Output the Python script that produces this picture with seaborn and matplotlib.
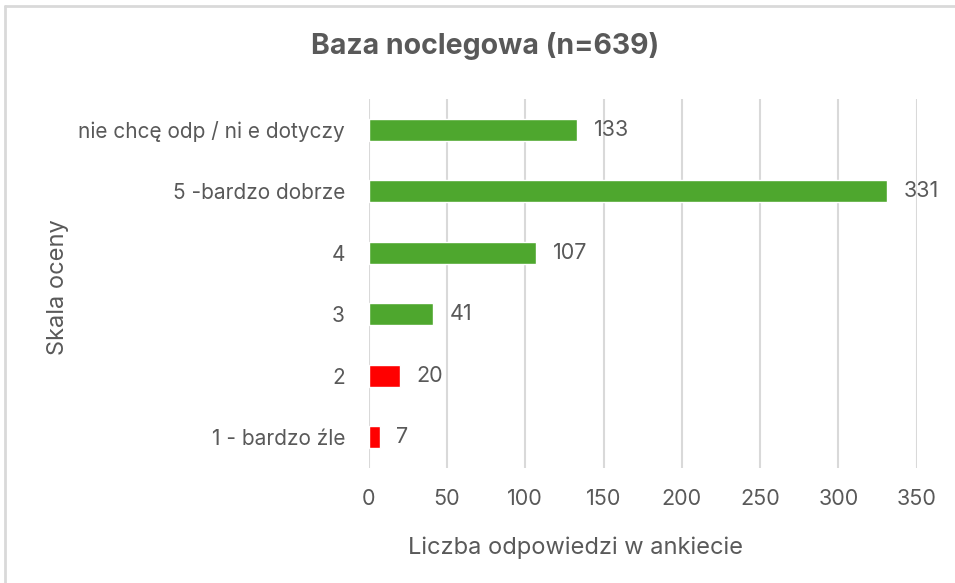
import matplotlib
matplotlib.use("Agg")
import matplotlib.pyplot as plt
import seaborn as sns
import pandas as pd
from matplotlib.lines import Line2D

# dane z ankiety
categories = ["nie chcę odp / ni e dotyczy", "5 -bardzo dobrze", "4", "3", "2", "1 - bardzo źle"]
counts = [133, 331, 107, 41, 20, 7]
bar_colors = ["#4EA72E", "#4EA72E", "#4EA72E", "#4EA72E", "#FF0000", "#FF0000"]
x_ticks = [0, 50, 100, 150, 200, 250, 300, 350]

sns.set_theme(style="white")
plt.rcParams['font.family'] = ['Inter', 'DejaVu Sans']
text_color = "#595959"

df = pd.DataFrame({"kategoria": categories, "liczba": counts})

fig = plt.figure(figsize=(9.55, 5.83), dpi=100)
ax = fig.add_axes([0.386, 0.197, 0.574, 0.633])

sns.barplot(data=df, x="liczba", y="kategoria", hue="kategoria",
            palette=bar_colors, legend=False, width=0.36, ax=ax, saturation=1)

ax.set_xlim(0, 350)
ax.set_xticks(x_ticks)
ax.grid(axis="x", color="#D9D9D9", linewidth=1.5)
ax.set_axisbelow(True)
for s in ax.spines.values():
    s.set_visible(False)
ax.tick_params(axis="both", length=0, colors=text_color)
ax.tick_params(axis="x", pad=15, labelsize=15.5)
ax.tick_params(axis="y", pad=17, labelsize=15)

# etykiety wartości
for cont in ax.containers:
    ax.bar_label(cont, padding=12, fontsize=15.5, color=text_color)

ax.set_xlabel("Liczba odpowiedzi w ankiecie", fontsize=17, color=text_color)
ax.xaxis.set_label_coords(0.378, -0.185)
ax.set_ylabel("Skala oceny", fontsize=17, color=text_color)
ax.yaxis.set_label_coords(-0.547, 0.49)

fig.suptitle("Baza noclegowa (n=639)", x=0.508, y=0.945, fontsize=20.5,
             fontweight="bold", color=text_color)

# ramka wykresu (widoczna tylko góra i lewa krawędź)
fig.add_artist(Line2D([0.0055, 0.0055], [0, 0.99], transform=fig.transFigure,
                      color="#D9D9D9", linewidth=2))
fig.add_artist(Line2D([0.0055, 1], [0.99, 0.99], transform=fig.transFigure,
                      color="#D9D9D9", linewidth=2))

plt.savefig("out.png", dpi=100)
plt.close()
